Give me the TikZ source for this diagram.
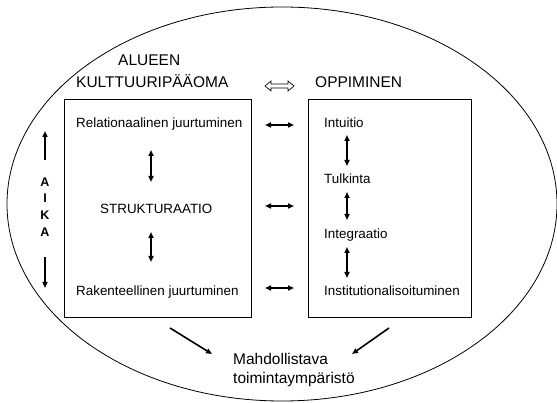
\documentclass[tikz,border=0pt]{standalone}
\usepackage{fontspec}
\setmainfont{Liberation Sans}
\usetikzlibrary{arrows.meta}

\begin{document}
\begin{tikzpicture}[x=1pt,y=-1pt,
  body/.style={font=\fontsize{13.4}{15}\selectfont, inner sep=0pt, anchor=base west},
  head/.style={font=\fontsize{15.5}{17}\selectfont, inner sep=0pt, anchor=base west},
  letter/.style={font=\fontsize{12.5}{14}\selectfont\bfseries, inner sep=0pt, anchor=base},
  panel/.style={draw, line width=0.8pt, inner sep=0pt, anchor=north west},
  link/.style={line width=1.6pt, {Triangle[length=6pt,width=5pt]}-{Triangle[length=6pt,width=5pt]}},
  oneway/.style={line width=1.6pt, -{Triangle[length=6pt,width=5pt]}}]
\useasboundingbox (0,0) rectangle (557,403);

% surrounding ellipse
\draw[line width=0.8pt] (282,204) ellipse [x radius=275pt, y radius=197pt];

% headings
\node[head] (alueen) at (118,66) {ALUEEN};
\node[head] (kult) at (76,88) {KULTTUURIPÄÄOMA};
\node[head] (oppi) at (315,88) {OPPIMINEN};

% hollow double arrow between the headings
\draw[line width=0.7pt] (265,86) -- (271,81) -- (271,84) -- (288,84) -- (288,81)
  -- (294,86) -- (288,91) -- (288,88) -- (271,88) -- (271,91) -- cycle;

% panels
\node[panel, minimum width=187pt, minimum height=218pt] (lbox) at (64,99) {};
\node[panel, minimum width=163pt, minimum height=218pt] (rbox) at (308,99) {};

% left panel texts
\node[body] (rel) at (76,128) {Relationaalinen juurtuminen};
\node[body] (struk) at (100,214) {STRUKTURAATIO};
\node[body] (rak) at (76,296) {Rakenteellinen juurtuminen};

% right panel texts
\node[body] (intu) at (324,128) {Intuitio};
\node[body] (tulk) at (324,184) {Tulkinta};
\node[body] (integ) at (324,239) {Integraatio};
\node[body] (inst) at (324,296) {Institutionalisoituminen};

% time axis
\node[letter] (a1) at (45,187) {A};
\node[letter] (i1) at (45,203) {I};
\node[letter] (k1) at (45,220) {K};
\node[letter] (a2) at (45,237) {A};
\coordinate (upA) at (45,160);
\coordinate (upB) at (45,131);
\coordinate (dnA) at (45,257);
\coordinate (dnB) at (45,288);
\draw[oneway] (upA) -- (upB);
\draw[oneway] (dnA) -- (dnB);

% links inside the left panel
\coordinate (l1a) at (151,150); \coordinate (l1b) at (151,182);
\coordinate (l2a) at (151,232); \coordinate (l2b) at (151,262);
\draw[link] (l1a) -- (l1b);
\draw[link] (l2a) -- (l2b);

% links inside the right panel
\coordinate (r1a) at (347,135); \coordinate (r1b) at (347,166);
\coordinate (r2a) at (347,192); \coordinate (r2b) at (347,220);
\coordinate (r3a) at (347,247); \coordinate (r3b) at (347,278);
\draw[link] (r1a) -- (r1b);
\draw[link] (r2a) -- (r2b);
\draw[link] (r3a) -- (r3b);

% links between the panels
\coordinate (h1a) at (265,125); \coordinate (h1b) at (294,125);
\coordinate (h2a) at (265,206); \coordinate (h2b) at (294,206);
\coordinate (h3a) at (265,288); \coordinate (h3b) at (294,288);
\draw[link] (h1a) -- (h1b);
\draw[link] (h2a) -- (h2b);
\draw[link] (h3a) -- (h3b);

% outcome
\node[head] (mahd) at (233,364) {Mahdollistava};
\node[head] (toim) at (233,383) {toimintaympäristö};
\coordinate (dlA) at (170,328); \coordinate (dlB) at (212,354);
\coordinate (drA) at (389,328); \coordinate (drB) at (352,354);
\draw[oneway] (dlA) -- (dlB);
\draw[oneway] (drA) -- (drB);
\end{tikzpicture}
\end{document}
